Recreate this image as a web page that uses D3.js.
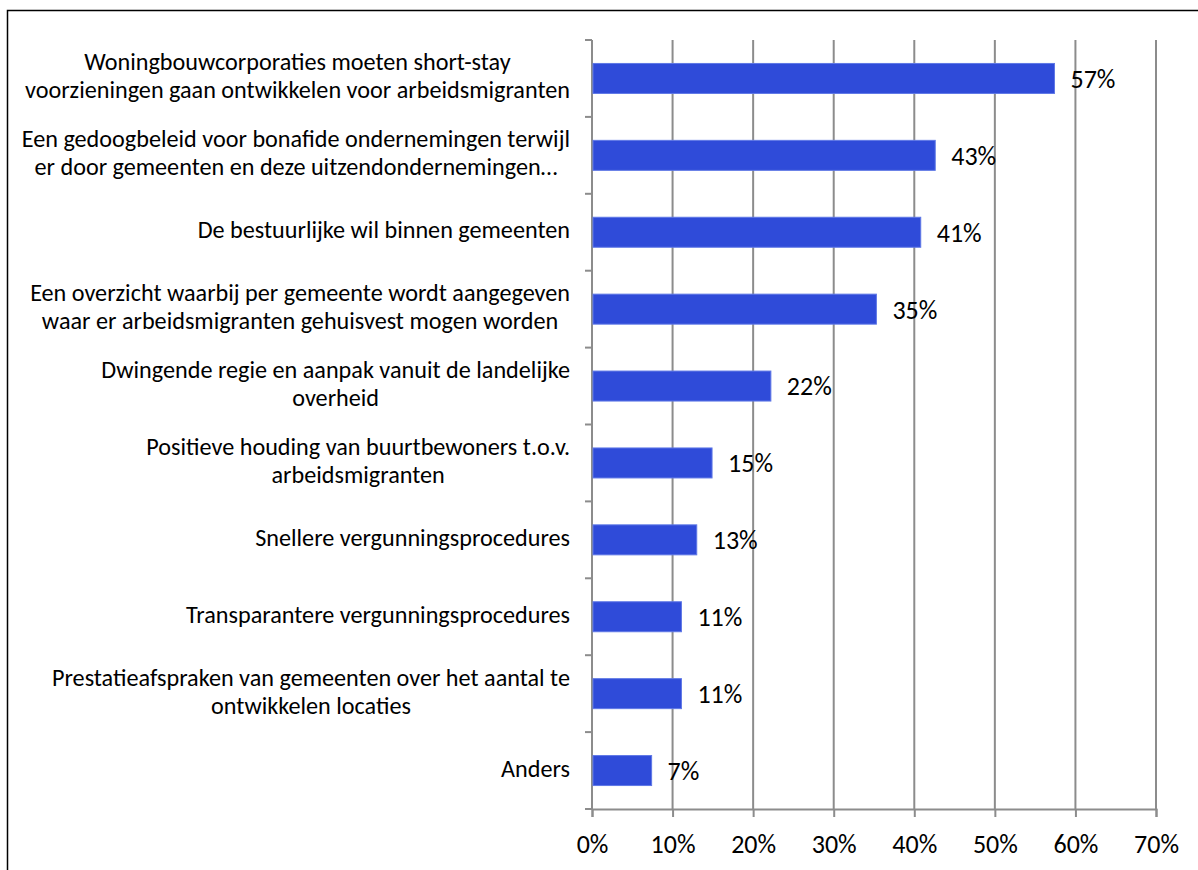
<!DOCTYPE html>
<html>
<head>
<meta charset="utf-8">
<script src="https://cdn.jsdelivr.net/npm/d3@7"></script>
<style>
  body { margin: 0; background: #fff; }
  svg text { font-family: Carlito, Lato, "Noto Sans", sans-serif; fill: #000; }
</style>
</head>
<body>
<script>
var w = 1198;
var h = 870;

// category labels, one array entry per printed line
var categories = [
  ["Woningbouwcorporaties moeten short-stay", "voorzieningen gaan ontwikkelen voor arbeidsmigranten"],
  ["Een gedoogbeleid voor bonafide ondernemingen terwijl", "er door gemeenten en deze uitzendondernemingen…"],
  ["De bestuurlijke wil binnen gemeenten"],
  ["Een overzicht waarbij per gemeente wordt aangegeven", "waar er arbeidsmigranten gehuisvest mogen worden"],
  ["Dwingende regie en aanpak vanuit de landelijke", "overheid"],
  ["Positieve houding van buurtbewoners t.o.v.", "arbeidsmigranten"],
  ["Snellere vergunningsprocedures"],
  ["Transparantere vergunningsprocedures"],
  ["Prestatieafspraken van gemeenten over het aantal te", "ontwikkelen locaties"],
  ["Anders"]
];
var values = [57.4, 42.6, 40.8, 35.3, 22.2, 14.9, 13.0, 11.1, 11.1, 7.4];
var xTicks = [0, 10, 20, 30, 40, 50, 60, 70];

var margin = {top: 40, left: 592, right: 42, bottom: 61};
var labelSize = 24.2;
var numberSize = 26;

var svg = d3.select("body").append("svg")
  .attr("width", w)
  .attr("height", h);

// outer frame (runs off the right and bottom edges)
svg.append("rect")
  .attr("x", 7.5).attr("y", 10.5)
  .attr("width", w + 20).attr("height", h + 20)
  .attr("fill", "none")
  .attr("stroke", "#000")
  .attr("stroke-width", 1.5);

var x = d3.scaleLinear()
  .domain([0, 70])
  .range([margin.left, w - margin.right]);

var y = d3.scaleBand()
  .domain(d3.range(categories.length))
  .range([margin.top, h - margin.bottom])
  .paddingInner(0.61)
  .paddingOuter(0.305);

var plotTop = margin.top, plotBottom = h - margin.bottom;
var gridColor = "#8c8c8c";

// vertical gridlines
svg.append("g").selectAll("line")
  .data(xTicks.slice(1))
  .enter().append("line")
  .attr("x1", function(d) { return x(d); })
  .attr("x2", function(d) { return x(d); })
  .attr("y1", plotTop)
  .attr("y2", plotBottom)
  .attr("stroke", gridColor)
  .attr("stroke-width", 2);

// x axis
var xAxis = d3.axisBottom(x)
  .tickValues(xTicks)
  .tickSize(8)
  .tickFormat(function(d) { return d + "%"; });

var gx = svg.append("g")
  .attr("transform", "translate(0," + plotBottom + ")")
  .call(xAxis);
gx.select(".domain").attr("stroke", gridColor).attr("stroke-width", 2);
gx.selectAll(".tick line").attr("stroke", gridColor).attr("stroke-width", 2);
gx.selectAll(".tick text")
  .attr("font-size", numberSize)
  .attr("fill", "#000")
  .attr("y", 44)
  .attr("dy", 0);

// y axis line + tick marks on band boundaries
var step = y.step();
var boundaries = d3.range(categories.length + 1).map(function(i) { return plotTop + i * step; });
svg.append("line")
  .attr("x1", x(0)).attr("x2", x(0))
  .attr("y1", plotTop).attr("y2", plotBottom)
  .attr("stroke", gridColor).attr("stroke-width", 2);
svg.append("g").selectAll("line")
  .data(boundaries)
  .enter().append("line")
  .attr("x1", x(0) - 7).attr("x2", x(0))
  .attr("y1", function(d) { return d; })
  .attr("y2", function(d) { return d; })
  .attr("stroke", gridColor).attr("stroke-width", 2);

// bars
svg.append("g").selectAll("rect")
  .data(values)
  .enter().append("rect")
  .attr("x", x(0) + 1)
  .attr("y", function(d, i) { return y(i); })
  .attr("width", function(d) { return x(d) - x(0) - 1; })
  .attr("height", y.bandwidth())
  .attr("fill", "#2F4BD9")
  .attr("stroke", "#5F78E6")
  .attr("stroke-width", 1);

// value labels
svg.append("g").selectAll("text")
  .data(values)
  .enter().append("text")
  .attr("x", function(d) { return x(d) + 16; })
  .attr("y", function(d, i) { return y(i) + y.bandwidth() / 2; })
  .attr("dy", "0.36em")
  .attr("font-size", numberSize)
  .text(function(d) { return Math.round(d) + "%"; });

// category labels: lines centred on each other, block right-aligned
var labelRight = x(0) - 22;
var lineGap = 28;
var labels = svg.append("g").selectAll("text")
  .data(categories)
  .enter().append("text")
  .attr("font-size", labelSize)
  .attr("text-anchor", "middle")
  .attr("dominant-baseline", "middle");

labels.each(function(lines, i) {
  var t = d3.select(this);
  var cy = y(i) + y.bandwidth() / 2;
  lines.forEach(function(line, j) {
    t.append("tspan")
      .attr("y", cy + (j - (lines.length - 1) / 2) * lineGap)
      .text(line);
  });
  var maxW = 0;
  t.selectAll("tspan").each(function() {
    maxW = Math.max(maxW, this.getComputedTextLength());
  });
  t.selectAll("tspan").attr("x", labelRight - maxW / 2);
});
</script>
</body>
</html>
